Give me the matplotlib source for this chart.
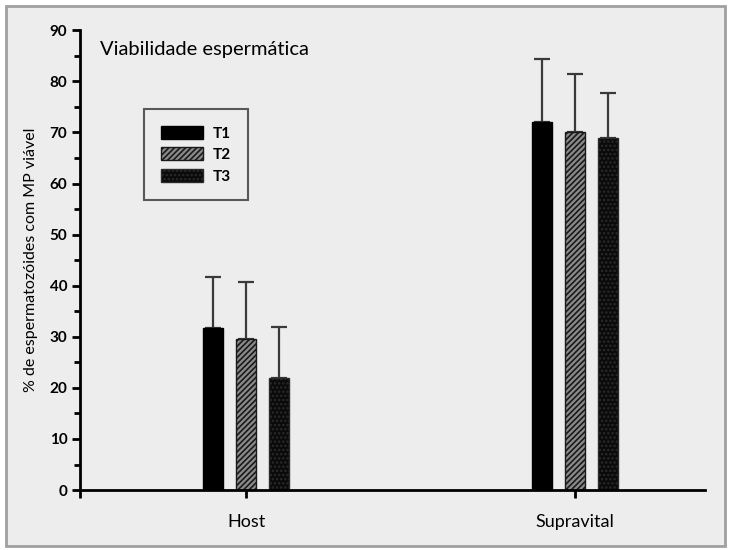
import matplotlib.pyplot as plt
import matplotlib.patches as mpatches
import numpy as np

plt.rcParams['font.family'] = ['Lato', 'DejaVu Sans']
plt.rcParams['hatch.linewidth'] = 1.2

groups = ["Host", "Supravital"]
series = ["T1", "T2", "T3"]
means = {
    "T1": [31.7, 72.0],
    "T2": [29.5, 70.0],
    "T3": [21.9, 68.9],
}
errors = {
    "T1": [10.0, 12.3],
    "T2": [11.2, 11.4],
    "T3": [10.0, 8.8],
}

faces = {"T1": "black", "T2": "#8a8a8a", "T3": "#0a0a0a"}
hatches = {"T1": None, "T2": "//////", "T3": "...."}
hatch_cols = {"T1": "black", "T2": "#1a1a1a", "T3": "#2a2a2a"}

fig = plt.figure(figsize=(7.31, 5.5), dpi=100)
fig.patch.set_facecolor("white")
fig.patches.append(mpatches.Rectangle((0.008, 0.008), 0.984, 0.982, transform=fig.transFigure,
                                      facecolor="#ededed", edgecolor="#a0a0a0", linewidth=2, zorder=-1))

ax = fig.add_axes([0.1094, 0.109, 0.855, 0.836])
ax.set_facecolor("none")

x = np.arange(len(groups))
width = 0.061
offsets = [-0.1, 0.0, 0.1]
for s, off in zip(series, offsets):
    ax.bar(x + off, means[s], width, color=faces[s], edgecolor=hatch_cols[s], hatch=hatches[s],
           linewidth=1.0, label=s, zorder=2)
    ax.errorbar(x + off, means[s], yerr=[np.zeros(len(groups)), errors[s]], fmt="none",
                ecolor="#3a3a3a", elinewidth=1.6, capsize=6, capthick=1.6, zorder=1)

xl = -0.505
ax.set_xlim(xl, 1.395)
ax.set_ylim(0, 90)
ax.set_yticks(np.arange(0, 91, 10))
ax.set_yticks(np.arange(5, 90, 10), minor=True)
ax.set_xticks([xl, 0, 1])
ax.set_xticklabels(["", groups[0], groups[1]])

for side in ["top", "right"]:
    ax.spines[side].set_visible(False)
for side in ["left", "bottom"]:
    ax.spines[side].set_linewidth(2)
ax.tick_params(axis="y", which="major", length=6, width=2, labelsize=11, pad=3)
ax.tick_params(axis="y", which="minor", length=4, width=2)
ax.tick_params(axis="x", length=6, width=2, labelsize=13, pad=11)
for lab in ax.get_yticklabels():
    lab.set_fontweight("bold")

ax.set_ylabel("% de espermatozóides com MP viável", fontsize=11.5, labelpad=8)
ax.text(0.032, 0.977, "Viabilidade espermática", transform=ax.transAxes, fontsize=14.5,
        ha="left", va="top")

leg = ax.legend(loc="upper left", bbox_to_anchor=(0.09, 0.845), frameon=True, fancybox=False,
                edgecolor="#333333", facecolor="none", fontsize=11, handlelength=2.8,
                handleheight=0.9, borderpad=1.1, labelspacing=0.45, handletextpad=0.6)
leg.get_frame().set_linewidth(1.5)
for t in leg.get_texts():
    t.set_fontweight("bold")

plt.savefig("out.png", dpi=100)
